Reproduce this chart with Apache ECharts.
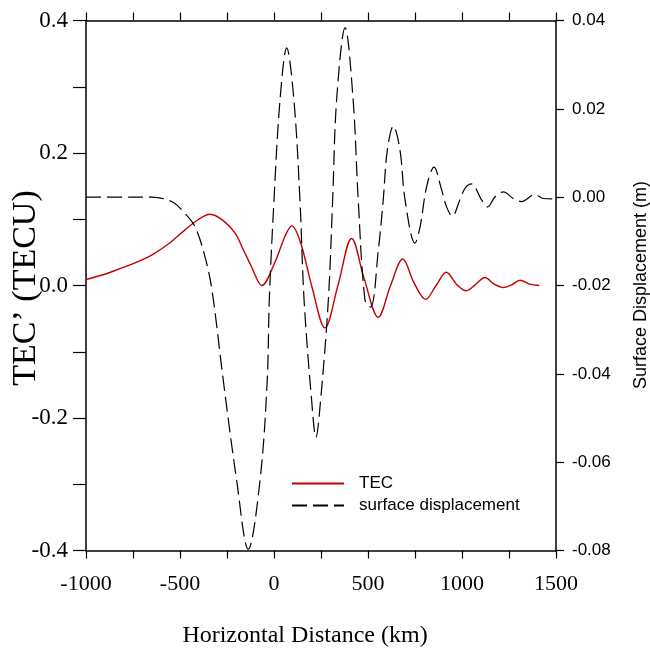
<!DOCTYPE html>
<html>
<head>
<meta charset="utf-8">
<script src="https://cdn.jsdelivr.net/npm/echarts@6/dist/echarts.min.js"></script>
<style>html,body{margin:0;padding:0;background:#fff;}#c{width:650px;height:654px;}</style>
</head>
<body>
<div id="c"></div>
<script>
// Horizontal distance (km) and TEC' (TECU)
const tecX = [-1000, -900, -828, -740, -651, -560, -473, -400, -340, -270, -207, -160, -119, -65, 5, 58, 94, 140, 200, 271, 340, 413, 480, 555, 620, 685, 745, 807, 862, 917, 970, 1021, 1070, 1122, 1172, 1223, 1265, 1309, 1360, 1411];
const tecY = [0.009, 0.017, 0.0245, 0.034, 0.046, 0.063, 0.084, 0.100, 0.1075, 0.098, 0.079, 0.052, 0.028, 0.000, 0.035, 0.074, 0.090, 0.066, 0.000, -0.064, 0.000, 0.071, 0.010, -0.048, 0.000, 0.040, 0.004, -0.021, 0.000, 0.020, 0.002, -0.008, 0.001, 0.012, 0.002, -0.003, 0.001, 0.008, 0.002, 0.000];
// Horizontal distance (km) and surface displacement (m)
const dispX = [-1000, -800, -651, -545, -473, -420, -367, -330, -270, -199, -137, -74, -36, -25, 0, 32, 67.5, 106, 138, 160, 200, 223, 248, 289, 312, 333, 378, 421, 448, 484, 514, 555, 581, 603, 635, 670, 697, 750, 777, 812, 851, 892, 918, 948, 989, 1016, 1051, 1104, 1136, 1176, 1220, 1273, 1317, 1388, 1433, 1495];
const dispY = [0, 0, 0, -0.001, -0.0037, -0.0067, -0.0135, -0.021, -0.0414, -0.064, -0.0797, -0.064, -0.0414, -0.0233, -0.0006, 0.022, 0.0338, 0.022, -0.0006, -0.0233, -0.0459, -0.0544, -0.0459, -0.0233, -0.0006, 0.022, 0.0384, 0.022, -0.0006, -0.0233, -0.0249, -0.012, -0.0006, 0.0107, 0.0161, 0.0107, -0.0006, -0.0104, -0.0067, 0.0024, 0.0068, 0.0016, -0.0022, -0.0043, -0.0006, 0.002, 0.003, -0.0006, -0.0022, 0.0001, 0.0012, -0.0003, -0.001, 0.0006, -0.0003, -0.0004];
const xTicks = [-1000, -500, 0, 500, 1000, 1500];
const seriesNames = ['TEC', 'surface displacement'];
const xTitle = 'Horizontal Distance (km)';
const yLeftTitle = 'TEC’ (TECU)';
const yRightTitle = 'Surface Displacement (m)';

const serif = 'Liberation Serif, Times New Roman, serif';
const sans = 'Liberation Sans, Arial, Helvetica, sans-serif';
const axisLine = {show: true, onZero: false, lineStyle: {color: '#000', width: 1.5}};
const tickStyle = {color: '#000', width: 1.2};

const chart = echarts.init(document.getElementById('c'), null, {renderer: 'canvas'});
chart.setOption({
  animation: false,
  backgroundColor: '#fff',
  grid: {left: 86, right: 94, top: 20.5, bottom: 103.5, containLabel: false},
  legend: {
    orient: 'vertical', left: 291, top: 475, padding: 0,
    itemWidth: 52, itemHeight: 14, itemGap: 5,
    data: seriesNames,
    itemStyle: {opacity: 0},
    textStyle: {fontFamily: sans, fontSize: 17, color: '#000', padding: [0, 0, 0, 10]}
  },
  xAxis: [
    {
      type: 'value', position: 'bottom', min: -1000, max: 1500, interval: 500,
      axisLine: axisLine, splitLine: {show: false},
      axisTick: {show: true, inside: false, length: 8, lineStyle: tickStyle},
      minorTick: {show: true, splitNumber: 2, length: 8, lineStyle: tickStyle},
      axisLabel: {fontFamily: serif, fontSize: 22, color: '#000', margin: 23,
        formatter: v => xTicks.includes(v) ? String(v) : ''}
    },
    {
      type: 'value', position: 'top', min: -1000, max: 1500, interval: 250,
      axisLine: axisLine, splitLine: {show: false},
      axisTick: {show: true, inside: false, length: 8, lineStyle: tickStyle},
      axisLabel: {show: false}
    }
  ],
  yAxis: [
    {
      type: 'value', position: 'left', min: -0.4, max: 0.4, interval: 0.2,
      axisLine: axisLine, splitLine: {show: false},
      axisTick: {show: true, inside: false, length: 13, lineStyle: tickStyle},
      minorTick: {show: true, splitNumber: 2, length: 13, lineStyle: tickStyle},
      axisLabel: {fontFamily: serif, fontSize: 23, color: '#000', margin: 18,
        formatter: v => v.toFixed(1)}
    },
    {
      type: 'value', position: 'right', min: -0.08, max: 0.04, interval: 0.02,
      axisLine: axisLine, splitLine: {show: false},
      axisTick: {show: true, inside: false, length: 8, lineStyle: tickStyle},
      axisLabel: {fontFamily: sans, fontSize: 17, color: '#000', margin: 16,
        formatter: v => v.toFixed(2)}
    }
  ],
  series: [
    {
      name: seriesNames[0], type: 'line', xAxisIndex: 0, yAxisIndex: 0,
      data: tecX.map((x, i) => [x, tecY[i]]),
      symbol: 'none', smooth: 0.35,
      lineStyle: {color: '#c40000', width: 1.4},
      itemStyle: {color: '#c40000'}, z: 2
    },
    {
      name: seriesNames[1], type: 'line', xAxisIndex: 0, yAxisIndex: 1,
      data: dispX.map((x, i) => [x, dispY[i]]),
      symbol: 'none', smooth: 0.35,
      lineStyle: {color: '#000', width: 1.2, type: [15, 6]},
      itemStyle: {color: '#000'}, z: 3
    }
  ],
  graphic: [
    {type: 'text', x: 305, y: 636, style: {text: xTitle, font: '24px ' + serif, fill: '#000', textAlign: 'center', textVerticalAlign: 'middle'}},
    {type: 'text', x: 26, y: 288, rotation: Math.PI / 2, style: {text: yLeftTitle, font: '34px ' + serif, fill: '#000', textAlign: 'center', textVerticalAlign: 'middle'}},
    {type: 'text', x: 641, y: 285, rotation: Math.PI / 2, style: {text: yRightTitle, font: '18px ' + sans, fill: '#000', textAlign: 'center', textVerticalAlign: 'middle'}}
  ]
});
</script>
</body>
</html>
